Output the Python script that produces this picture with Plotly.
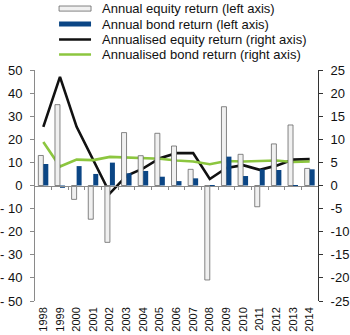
import plotly.graph_objects as go

years = [1998, 1999, 2000, 2001, 2002, 2003, 2004, 2005, 2006, 2007, 2008, 2009, 2010, 2011, 2012, 2013, 2014]
equity_annual = [13.0, 35.0, -6.0, -14.6, -24.6, 22.9, 12.9, 22.6, 17.1, 7.0, -40.9, 34.1, 13.5, -9.2, 18.0, 26.2, 7.4]
bond_annual = [9.3, -1.0, 8.4, 5.0, 9.9, 5.3, 6.3, 3.8, 1.9, 3.1, -0.5, 12.5, 4.1, 7.0, 6.7, 0.2, 7.0]
equity_annualised = [12.7, 23.5, 12.7, 5.4, -1.7, 2.1, 3.7, 5.9, 7.0, 7.0, 1.4, 3.8, 4.4, 3.4, 4.3, 5.6, 5.7]
bond_annualised = [9.4, 4.1, 5.6, 5.5, 6.2, 6.1, 6.0, 5.8, 5.4, 5.2, 4.6, 5.3, 5.2, 5.3, 5.4, 5.1, 5.2]

left_ticks = [-50, -40, -30, -20, -10, 0, 10, 20, 30, 40, 50]
left_ticktext = ["- 50", "- 40", "- 30", "- 20", "- 10", "0", "10", "20", "30", "40", "50"]
right_ticks = [-25, -20, -15, -10, -5, 0, 5, 10, 15, 20, 25]
right_ticktext = ["-25", "-20", "-15", "-10", "-5", "0", "5", "10", "15", "20", "25"]

legend_labels = [
    "Annual equity return (left axis)",
    "Annual bond return (left axis)",
    "Annualised equity return (right axis)",
    "Annualised bond return (right axis)",
]

EQ_FILL = "#f0f0f0"
EQ_LINE = "#666666"
BOND = "#0b4685"
BLACK = "#111111"
GREEN = "#8cc63f"
FONT = "Liberation Sans, Arial, sans-serif"

fig = go.Figure()

# lines on the right-hand scale (drawn under bars)
fig.add_trace(go.Scatter(x=years, y=equity_annualised, mode="lines", xaxis="x", yaxis="y",
                         line=dict(color=BLACK, width=2.6), showlegend=False))
fig.add_trace(go.Scatter(x=years, y=bond_annualised, mode="lines", xaxis="x", yaxis="y",
                         line=dict(color=GREEN, width=2.6), showlegend=False))

# bars on the left-hand scale
fig.add_trace(go.Bar(x=years, y=equity_annual, xaxis="x", yaxis="y2",
                     marker=dict(color=EQ_FILL, line=dict(color=EQ_LINE, width=0.8)),
                     showlegend=False))
fig.add_trace(go.Bar(x=years, y=bond_annual, xaxis="x", yaxis="y2",
                     marker=dict(color=BOND, line=dict(width=0)), showlegend=False))

# invisible trace to materialise the zero-line axis
fig.add_trace(go.Scatter(x=[years[0]], y=[None], xaxis="x2", yaxis="y", mode="markers",
                         showlegend=False, hoverinfo="skip"))

xr = [years[0] - 0.5, years[-1] + 0.5]
boundaries = [y + 0.5 for y in years[:-1]]

fig.update_layout(
    width=350, height=335,
    margin=dict(l=35, r=32, t=70, b=34, autoexpand=False),
    paper_bgcolor="white", plot_bgcolor="white",
    barmode="group", bargap=0.4, bargroupgap=0.0,
    font=dict(family=FONT, size=13, color="#111"),
    xaxis=dict(range=xr, tickmode="array", tickvals=years, ticktext=[str(y) for y in years],
               tickangle=-90, tickfont=dict(size=11), showline=False, ticks="",
               showgrid=False, zeroline=False, ticklabelstandoff=3, automargin=False),
    xaxis2=dict(range=xr, overlaying="x", anchor="free", position=0.5, showline=True,
                linecolor="#8a8a8a", linewidth=1, ticks="outside", ticklen=3,
                tickcolor="#8a8a8a", tickvals=boundaries, showticklabels=False,
                showgrid=False, zeroline=False, automargin=False),
    yaxis=dict(range=[-25, 25], side="right", tickmode="array", tickvals=right_ticks,
               ticktext=right_ticktext, showline=True, linecolor="#333", linewidth=1,
               ticks="outside", ticklen=4, tickcolor="#333", showgrid=False,
               zeroline=False, ticklabelstandoff=5, automargin=False),
    yaxis2=dict(range=[-50, 50], side="left", overlaying="y", tickmode="array",
                tickvals=left_ticks, ticktext=left_ticktext, showline=True,
                linecolor="#8a8a8a", linewidth=1, ticks="outside", ticklen=4,
                tickcolor="#8a8a8a", showgrid=False, zeroline=False, ticklabelstandoff=5,
                automargin=False),
)

# manual legend (paper coordinates)
row_y = [1.266, 1.199, 1.132, 1.067]
sx0, sx1, tx = 0.085, 0.198, 0.228
half_h = 0.011
fig.add_shape(type="rect", xref="paper", yref="paper", x0=sx0, x1=sx1,
              y0=row_y[0] - half_h, y1=row_y[0] + half_h,
              fillcolor=EQ_FILL, line=dict(color=EQ_LINE, width=0.8))
fig.add_shape(type="rect", xref="paper", yref="paper", x0=sx0, x1=sx1,
              y0=row_y[1] - half_h, y1=row_y[1] + half_h,
              fillcolor=BOND, line=dict(width=0))
fig.add_shape(type="line", xref="paper", yref="paper", x0=sx0, x1=sx1,
              y0=row_y[2], y1=row_y[2], line=dict(color=BLACK, width=2.6))
fig.add_shape(type="line", xref="paper", yref="paper", x0=sx0, x1=sx1,
              y0=row_y[3], y1=row_y[3], line=dict(color=GREEN, width=2.6))
for label, ry in zip(legend_labels, row_y):
    fig.add_annotation(text=label, xref="paper", yref="paper", x=tx, y=ry,
                       xanchor="left", yanchor="middle", showarrow=False,
                       font=dict(family=FONT, size=13, color="#111"))

fig.write_html("out.html")
